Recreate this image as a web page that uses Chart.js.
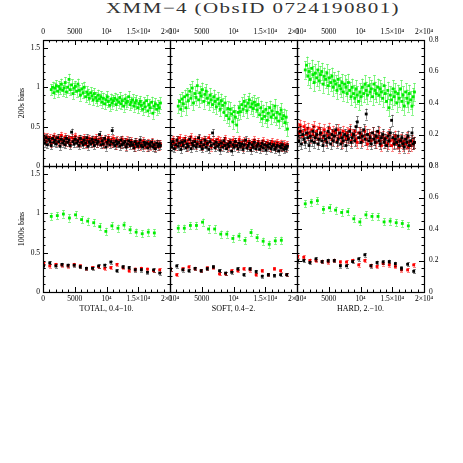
<!DOCTYPE html>
<html>
<head>
<meta charset="utf-8">
<script src="https://cdn.jsdelivr.net/npm/chart.js@4.4.0/dist/chart.umd.min.js"></script>
<style>
  body { margin: 0; background: #fff; }
  #wrap { position: relative; width: 463px; height: 463px; overflow: hidden; }
  #wrap canvas { position: absolute; left: 0; top: 0; }
  #title {
    position: absolute; top: 1px; left: 43px; width: 420px; text-align: center;
    font-family: 'Liberation Serif', serif; font-size: 15px; line-height: 15px;
    letter-spacing: 1px; color: #333; transform: scaleX(1.4); transform-origin: 210px 0;
    white-space: nowrap;
  }
</style>
</head>
<body>
<div id="wrap">
  <div id="title">XMM−4 (ObsID 0724190801)</div>
</div>
<script>
// ---- tick labels ----
const xTickValues = [0, 5000, 10000, 15000, 20000];
const xTickLabels = ['0', '5000', '10⁴', '1.5×10⁴', '2×10⁴'];
const yTickValues = [0, 0.5, 1, 1.5];
const yTickLabels = ['0', '0.5', '1', '1.5'];
const y2TickValues = [0, 0.2, 0.4, 0.6, 0.8];
const y2TickLabels = ['0', '0.2', '0.4', '0.6', '0.8'];

const bandNames = ['TOTAL, 0.4−10.', 'SOFT, 0.4−2.', 'HARD, 2.−10.'];
const rowNames = ['200s bins', '1000s bins'];

// ---- time bins (start, width) ----
const bins200Green = [1300, 200];
const bins200RedBlack = [100, 200];
const bins1000Green = [1300, 955];
const bins1000RedBlack = [100, 962];

// ---- 200 s light curves (count rates) ----
const total200Green = [0.97,1.00,0.93,0.99,1.02,0.95,1.01,0.98,1.04,0.96,
  0.99,1.06,0.94,1.00,1.10,0.97,1.03,0.92,0.99,1.01,
  0.95,1.04,0.96,0.90,0.98,0.93,1.00,0.88,0.94,0.91,
  0.86,0.93,0.89,0.84,0.92,0.87,0.83,0.90,0.85,0.88,
  0.81,0.86,0.79,0.84,0.88,0.82,0.77,0.85,0.80,0.83,
  0.86,0.78,0.84,0.81,0.87,0.79,0.83,0.76,0.85,0.80,
  0.82,0.88,0.78,0.81,0.84,0.76,0.80,0.83,0.74,0.79,
  0.82,0.77,0.72,0.80,0.75,0.83,0.70,0.78,0.74,0.81,
  0.67,0.76,0.79,0.72,0.77,0.74,0.80];
const total200Red = [0.38,0.35,0.31,0.37,0.33,0.36,0.29,0.34,0.38,0.32,
  0.35,0.30,0.36,0.33,0.39,0.31,0.34,0.37,0.30,0.35,
  0.33,0.28,0.36,0.32,0.34,0.38,0.30,0.33,0.35,0.29,
  0.34,0.31,0.36,0.27,0.33,0.30,0.35,0.32,0.29,0.34,
  0.31,0.36,0.28,0.33,0.30,0.35,0.32,0.27,0.34,0.31,
  0.29,0.36,0.30,0.33,0.28,0.35,0.31,0.26,0.33,0.30,
  0.32,0.27,0.34,0.29,0.31,0.25,0.33,0.28,0.30,0.32,
  0.26,0.29,0.24,0.31,0.27,0.30,0.25,0.28,0.32,0.26,
  0.29,0.24,0.30,0.27,0.25,0.31,0.26,0.28,0.24,0.29,
  0.27,0.25,0.28];
const total200Black = [0.33,0.29,0.36,0.27,0.34,0.31,0.26,0.35,0.30,0.33,
  0.28,0.36,0.31,0.25,0.34,0.29,0.32,0.27,0.35,0.30,
  0.33,0.26,0.43,0.31,0.28,0.34,0.29,0.32,0.26,0.35,
  0.30,0.27,0.33,0.29,0.36,0.25,0.31,0.28,0.34,0.30,
  0.26,0.33,0.29,0.31,0.40,0.27,0.32,0.28,0.35,0.24,
  0.30,0.33,0.27,0.31,0.45,0.29,0.26,0.32,0.28,0.30,
  0.25,0.33,0.27,0.29,0.31,0.24,0.28,0.32,0.26,0.30,
  0.27,0.23,0.31,0.28,0.25,0.29,0.33,0.26,0.24,0.30,
  0.27,0.29,0.23,0.28,0.26,0.30,0.24,0.27,0.22,0.29,
  0.25,0.28,0.26];

const soft200Green = [0.76,0.82,0.72,0.85,0.79,0.88,0.74,0.90,0.83,0.95,
  0.86,0.99,0.80,0.92,0.87,1.02,0.84,0.93,0.89,0.97,
  0.82,0.91,0.95,0.86,0.80,0.90,0.84,0.78,0.88,0.82,
  0.75,0.85,0.79,0.72,0.83,0.77,0.68,0.80,0.64,0.73,
  0.60,0.72,0.66,0.56,0.69,0.62,0.52,0.68,0.74,0.69,
  0.78,0.72,0.82,0.76,0.70,0.80,0.84,0.75,0.79,0.73,
  0.81,0.77,0.71,0.78,0.65,0.74,0.60,0.69,0.63,0.72,
  0.58,0.67,0.74,0.62,0.70,0.65,0.76,0.61,0.68,0.57,
  0.66,0.71,0.60,0.64,0.55,0.62,0.47];
const soft200Red = [0.31,0.27,0.34,0.29,0.25,0.33,0.30,0.36,0.26,0.32,
  0.28,0.35,0.30,0.24,0.33,0.29,0.37,0.27,0.31,0.34,
  0.26,0.30,0.35,0.28,0.32,0.25,0.34,0.29,0.31,0.27,
  0.36,0.30,0.24,0.33,0.28,0.31,0.26,0.34,0.29,0.32,
  0.25,0.30,0.27,0.35,0.28,0.24,0.31,0.29,0.26,0.33,
  0.28,0.31,0.25,0.29,0.34,0.27,0.30,0.24,0.32,0.28,
  0.26,0.31,0.29,0.23,0.30,0.27,0.33,0.25,0.28,0.31,
  0.26,0.29,0.24,0.32,0.27,0.25,0.30,0.28,0.23,0.29,
  0.31,0.26,0.28,0.24,0.30,0.27,0.25,0.29,0.23,0.28,
  0.26,0.24,0.27];
const soft200Black = [0.28,0.24,0.31,0.22,0.27,0.33,0.25,0.29,0.21,0.30,
  0.26,0.32,0.23,0.28,0.25,0.34,0.22,0.29,0.26,0.31,
  0.24,0.28,0.36,0.25,0.30,0.22,0.27,0.33,0.24,0.29,
  0.21,0.31,0.26,0.42,0.28,0.23,0.30,0.25,0.27,0.20,
  0.29,0.24,0.32,0.26,0.22,0.28,0.25,0.30,0.19,0.27,
  0.24,0.31,0.26,0.22,0.29,0.25,0.28,0.21,0.27,0.33,
  0.23,0.26,0.29,0.20,0.27,0.24,0.30,0.22,0.26,0.28,
  0.21,0.25,0.29,0.23,0.27,0.20,0.26,0.24,0.28,0.22,
  0.25,0.27,0.21,0.24,0.26,0.19,0.25,0.23,0.27,0.21,
  0.24,0.22,0.25];

const hard200Green = [0.61,0.64,0.57,0.60,0.55,0.62,0.58,0.53,0.59,0.56,
  0.61,0.54,0.58,0.60,0.52,0.57,0.55,0.59,0.51,0.56,
  0.53,0.57,0.50,0.54,0.52,0.48,0.55,0.51,0.49,0.53,
  0.47,0.52,0.50,0.46,0.53,0.48,0.44,0.50,0.46,0.43,
  0.49,0.45,0.41,0.47,0.44,0.50,0.46,0.52,0.48,0.45,
  0.51,0.47,0.49,0.44,0.52,0.48,0.46,0.50,0.45,0.49,
  0.47,0.43,0.51,0.46,0.41,0.48,0.37,0.45,0.42,0.49,
  0.44,0.47,0.40,0.46,0.43,0.49,0.41,0.45,0.38,0.47,
  0.43,0.40,0.46,0.42,0.38,0.44,0.47];
const hard200Red = [0.24,0.21,0.26,0.22,0.19,0.25,0.23,0.20,0.24,0.21,
  0.18,0.23,0.20,0.25,0.19,0.22,0.17,0.24,0.20,0.21,
  0.18,0.23,0.16,0.21,0.19,0.24,0.20,0.17,0.22,0.19,
  0.21,0.16,0.23,0.18,0.20,0.15,0.22,0.19,0.17,0.21,
  0.18,0.23,0.16,0.20,0.19,0.22,0.17,0.15,0.21,0.18,
  0.20,0.16,0.19,0.22,0.17,0.14,0.20,0.18,0.16,0.21,
  0.17,0.19,0.15,0.18,0.21,0.16,0.13,0.19,0.17,0.15,
  0.18,0.14,0.20,0.16,0.13,0.17,0.15,0.19,0.14,0.16,
  0.12,0.17,0.15,0.13,0.16,0.14,0.18,0.12,0.15,0.13,
  0.16,0.14,0.15];
const hard200Black = [0.19,0.16,0.22,0.14,0.20,0.17,0.15,0.21,0.18,0.13,
  0.19,0.16,0.22,0.15,0.18,0.20,0.14,0.17,0.21,0.16,
  0.13,0.19,0.17,0.15,0.22,0.18,0.14,0.20,0.16,0.19,
  0.23,0.15,0.17,0.21,0.14,0.18,0.16,0.20,0.13,0.19,
  0.17,0.22,0.15,0.18,0.20,0.16,0.25,0.28,0.18,0.21,
  0.15,0.19,0.23,0.17,0.33,0.20,0.16,0.18,0.14,0.21,
  0.17,0.15,0.19,0.22,0.16,0.14,0.18,0.20,0.15,0.17,
  0.13,0.19,0.16,0.21,0.29,0.18,0.14,0.17,0.15,0.19,
  0.13,0.16,0.18,0.14,0.12,0.17,0.15,0.19,0.13,0.16,
  0.21,0.14,0.15];

// ---- 1000 s light curves ----
const total1000Green = [0.96,0.97,0.99,0.94,0.98,0.92,0.90,0.88,0.83,0.77,0.84,0.81,0.85,0.79,0.76,0.74,0.76,0.75];
const total1000Red = [0.36,0.33,0.35,0.34,0.33,0.35,0.33,0.30,0.31,0.32,0.30,0.31,0.35,0.31,0.27,0.29,0.30,0.29,0.27,0.28];
const total1000Black = [0.33,0.37,0.33,0.35,0.34,0.34,0.32,0.30,0.30,0.33,0.34,0.38,0.27,0.32,0.31,0.28,0.28,0.25,0.28,0.24];

const soft1000Green = [0.81,0.81,0.845,0.845,0.887,0.80,0.80,0.735,0.735,0.68,0.71,0.655,0.755,0.69,0.645,0.607,0.65,0.657];
const soft1000Red = [0.29,0.22,0.295,0.317,0.295,0.27,0.305,0.31,0.23,0.23,0.27,0.27,0.295,0.28,0.22,0.27,0.22,0.295,0.27,0.22];
const soft1000Black = [0.29,0.33,0.28,0.27,0.30,0.27,0.295,0.32,0.27,0.24,0.25,0.295,0.22,0.295,0.26,0.20,0.22,0.21,0.22,0.22];

const hard1000Green = [0.56,0.57,0.58,0.525,0.535,0.52,0.505,0.51,0.465,0.445,0.49,0.48,0.48,0.445,0.45,0.44,0.435,0.42];
const hard1000Red = [0.226,0.22,0.20,0.20,0.193,0.19,0.20,0.19,0.19,0.20,0.172,0.20,0.168,0.162,0.18,0.172,0.162,0.14,0.14,0.172];
const hard1000Black = [0.198,0.20,0.187,0.21,0.193,0.20,0.20,0.166,0.166,0.193,0.21,0.236,0.166,0.187,0.19,0.193,0.18,0.15,0.176,0.131];

// errors (green, red, black)
const total200Err = [0.07, 0.045, 0.045];
const soft200Err = [0.09, 0.045, 0.045];
const hard200Err = [0.055, 0.035, 0.035];
const total1000Err = [0.045, 0.02, 0.02];
const soft1000Err = [0.045, 0.02, 0.02];
const hard1000Err = [0.022, 0.012, 0.012];

const panels = [
  { row: 0, col: 0, g: total200Green, r: total200Red, k: total200Black, err: total200Err, gb: bins200Green, rb: bins200RedBlack },
  { row: 0, col: 1, g: soft200Green, r: soft200Red, k: soft200Black, err: soft200Err, gb: bins200Green, rb: bins200RedBlack },
  { row: 0, col: 2, g: hard200Green, r: hard200Red, k: hard200Black, err: hard200Err, gb: bins200Green, rb: bins200RedBlack },
  { row: 1, col: 0, g: total1000Green, r: total1000Red, k: total1000Black, err: total1000Err, gb: bins1000Green, rb: bins1000RedBlack },
  { row: 1, col: 1, g: soft1000Green, r: soft1000Red, k: soft1000Black, err: soft1000Err, gb: bins1000Green, rb: bins1000RedBlack },
  { row: 1, col: 2, g: hard1000Green, r: hard1000Red, k: hard1000Black, err: hard1000Err, gb: bins1000Green, rb: bins1000RedBlack },
];

const FONT = "'Liberation Serif', 'DejaVu Serif', serif";
const W = 463, H = 463;
const PX0 = 43, PY0 = 40, PW = 127, PH = 126;
const wrap = document.getElementById('wrap');

function toPoints(vals, bin) {
  return vals.map((v, i) => ({ x: bin[0] + i * bin[1], y: v }));
}

function near(v, list) {
  return list.findIndex(t => Math.abs(t - v) < 1e-6);
}

// error bars under each dataset's markers
const errorBars = {
  id: 'errorBars',
  beforeDatasetDraw(chart, args) {
    const ds = chart.data.datasets[args.index];
    const a = chart.chartArea, ys = chart.scales.y, ctx = chart.ctx;
    ctx.save();
    ctx.beginPath();
    ctx.rect(a.left, a.top, a.right - a.left, a.bottom - a.top);
    ctx.clip();
    ctx.strokeStyle = ds.errColor;
    ctx.lineWidth = 1;
    ctx.beginPath();
    args.meta.data.forEach((pt, i) => {
      const v = ds.data[i].y;
      const y1 = ys.getPixelForValue(v - ds.err), y2 = ys.getPixelForValue(v + ds.err);
      const x = Math.round(pt.x) + 0.5;
      ctx.moveTo(x, y1); ctx.lineTo(x, y2);
      ctx.moveTo(x - 1.5, Math.round(y1) + 0.5); ctx.lineTo(x + 1.5, Math.round(y1) + 0.5);
      ctx.moveTo(x - 1.5, Math.round(y2) + 0.5); ctx.lineTo(x + 1.5, Math.round(y2) + 0.5);
    });
    ctx.stroke();
    ctx.restore();
  }
};

// frame with inward ticks on all four sides
const frame = {
  id: 'frame',
  afterDatasetsDraw(chart, args, opts) {
    const a = chart.chartArea, ctx = chart.ctx;
    const xs = chart.scales.x, ys = chart.scales.y;
    ctx.save();
    ctx.strokeStyle = '#000';
    ctx.lineWidth = 1;
    ctx.beginPath();
    xs.ticks.forEach(t => {
      const px = Math.round(xs.getPixelForValue(t.value)) + 0.5;
      const len = near(t.value, xTickValues) >= 0 ? 5 : 2.5;
      ctx.moveTo(px, a.top); ctx.lineTo(px, a.top + len);
      ctx.moveTo(px, a.bottom); ctx.lineTo(px, a.bottom - len);
    });
    ys.ticks.forEach(t => {
      const py = Math.round(ys.getPixelForValue(t.value)) + 0.5;
      const len = near(t.value, opts.majors) >= 0 ? 5 : 2.5;
      ctx.moveTo(a.left, py); ctx.lineTo(a.left + len, py);
      ctx.moveTo(a.right, py); ctx.lineTo(a.right - len, py);
    });
    ctx.stroke();
    ctx.lineWidth = 1.2;
    ctx.strokeRect(a.left + 0.5, a.top + 0.5, a.right - a.left, a.bottom - a.top);
    ctx.restore();
  }
};

function dataset(vals, bin, err, color, errColor) {
  return {
    data: toPoints(vals, bin),
    err: err,
    errColor: errColor,
    backgroundColor: color,
    borderColor: color,
    borderWidth: 0,
    pointStyle: 'rect',
    pointRadius: 2,
    showLine: false
  };
}

panels.forEach(p => {
  const cv = document.createElement('canvas');
  cv.width = W; cv.height = H;
  wrap.appendChild(cv);

  const L = PX0 + PW * p.col, R = L + PW, T = PY0 + PH * p.row, B = T + PH;
  const topRow = p.row === 0;
  const hard = p.col === 2;
  const yShown = p.col !== 1;
  const YW = yShown ? 26 : 0, XH = topRow ? 12 : 22;

  const padding = {
    left: p.col === 0 ? L - YW : L,
    right: hard ? W - R - YW : W - R,
    top: topRow ? T - XH : T,
    bottom: topRow ? H - B : H - B - XH
  };

  const yVals = hard ? y2TickValues : yTickValues;
  const yLabs = hard ? y2TickLabels : yTickLabels;

  new Chart(cv, {
    type: 'scatter',
    data: {
      datasets: [
        dataset(p.k, p.rb, p.err[2], '#000000', 'rgba(0,0,0,0.45)'),
        dataset(p.r, p.rb, p.err[1], '#ff0000', 'rgba(255,40,40,0.55)'),
        dataset(p.g, p.gb, p.err[0], '#00ee00', 'rgba(60,240,60,0.6)')
      ]
    },
    options: {
      responsive: false,
      animation: false,
      events: [],
      layout: { padding: padding },
      plugins: {
        legend: { display: false },
        tooltip: { enabled: false },
        frame: { majors: yVals }
      },
      scales: {
        x: {
          type: 'linear',
          position: topRow ? 'top' : 'bottom',
          min: 0, max: 20000,
          grid: { display: false, drawTicks: false },
          border: { display: false },
          afterFit: s => { s.height = XH; },
          ticks: {
            stepSize: 1000,
            autoSkip: false,
            maxRotation: 0,
            padding: 3,
            color: '#000',
            font: { family: FONT, size: 7.5 },
            callback: v => { const i = near(v, xTickValues); return i >= 0 ? xTickLabels[i] : ''; }
          },
          title: {
            display: !topRow,
            text: bandNames[p.col],
            color: '#000',
            padding: 0,
            font: { family: FONT, size: 8 }
          }
        },
        y: {
          type: 'linear',
          display: yShown,
          position: hard ? 'right' : 'left',
          min: 0, max: hard ? 0.8 : 1.6,
          grid: { display: false, drawTicks: false },
          border: { display: false },
          afterFit: s => { s.width = YW; },
          ticks: {
            stepSize: hard ? 0.05 : 0.1,
            maxTicksLimit: 100,
            autoSkip: false,
            padding: hard ? 5 : 3,
            color: '#000',
            font: { family: FONT, size: 7.5 },
            callback: v => { const i = near(v, yVals); return i >= 0 ? yLabs[i] : ''; }
          },
          title: {
            display: p.col === 0,
            text: rowNames[p.row],
            color: '#000',
            padding: 0,
            font: { family: FONT, size: 8 }
          }
        }
      }
    },
    plugins: [errorBars, frame]
  });
});
</script>
</body>
</html>
